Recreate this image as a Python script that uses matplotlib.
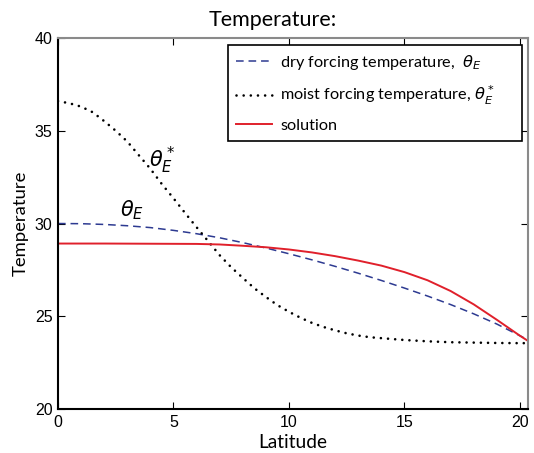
import matplotlib
matplotlib.use("Agg")
import matplotlib.pyplot as plt

# values
moist_lat = [0, 0.5, 1, 1.5, 2, 2.5, 3, 3.5, 4, 4.5, 5, 5.5, 6, 6.5, 7, 7.5, 8,
             8.5, 9, 9.5, 10, 10.5, 11, 11.5, 12, 12.5, 13, 13.5, 14, 15, 16,
             17, 18, 19, 20, 20.35]
moist_temp = [36.6, 36.48, 36.3, 36.0, 35.52, 35.0, 34.42, 33.68, 32.95, 32.12,
              31.36, 30.57, 29.8, 29.05, 28.29, 27.64, 27.07, 26.51, 26.04,
              25.6, 25.24, 24.92, 24.64, 24.42, 24.24, 24.08, 23.96, 23.87,
              23.82, 23.72, 23.65, 23.6, 23.58, 23.56, 23.55, 23.55]

dry_lat = [0, 1, 2, 3, 4, 5, 6, 7, 8, 9, 10, 11, 12, 13, 14, 15, 16, 17, 18,
           19, 20, 20.35]
dry_temp = [30.0, 29.99, 29.95, 29.88, 29.78, 29.63, 29.45, 29.23, 28.97,
            28.68, 28.37, 28.04, 27.69, 27.32, 26.93, 26.52, 26.09, 25.63,
            25.13, 24.58, 23.95, 23.72]

sol_lat = [0, 2, 4, 6, 7, 8, 9, 10, 11, 12, 13, 14, 15, 16, 17, 18, 19, 20,
           20.35]
sol_temp = [28.92, 28.92, 28.91, 28.9, 28.87, 28.8, 28.72, 28.6, 28.44, 28.24,
            28.0, 27.73, 27.38, 26.94, 26.36, 25.64, 24.81, 23.95, 23.67]

xticks = [0, 5, 10, 15, 20]
yticks = [20, 25, 30, 35, 40]

label_font = "Lato"
tick_font = "Liberation Sans"

fig = plt.figure(figsize=(5.34, 4.53), dpi=100)
ax = fig.add_axes([0.1086, 0.0971, 0.8802, 0.819])

ax.plot(dry_lat, dry_temp, color="#2d3a91", lw=1.1, dashes=(5, 3.2),
        label=r"dry forcing temperature,  $\theta_E$")
ax.plot(moist_lat, moist_temp, color="black", lw=1.9,
        linestyle=(0, (0.01, 2.7)), dash_capstyle="round",
        label=r"moist forcing temperature, $\theta_E^*$")
ax.plot(sol_lat, sol_temp, color="#e0202b", lw=1.4, label="solution")

ax.text(3.95, 33.4, r"$\theta_E^*$", fontsize=15, ha="left", va="center")
ax.text(2.7, 30.7, r"$\theta_E$", fontsize=15, ha="left", va="center")

ax.set_xlim(0, 20.35)
ax.set_ylim(20, 40)
ax.set_xticks(xticks)
ax.set_yticks(yticks)
ax.tick_params(direction="in", length=5, width=0.8, top=True, right=True,
               labelsize=11.5, pad=4)
for lab in ax.get_xticklabels() + ax.get_yticklabels():
    lab.set_fontfamily(tick_font)

for side in ["left", "bottom"]:
    ax.spines[side].set_color("black")
    ax.spines[side].set_linewidth(1.5)
for side in ["top", "right"]:
    ax.spines[side].set_color("#8a8a8a")
    ax.spines[side].set_linewidth(1.5)

ax.set_title("Temperature:", fontsize=15.5, family=label_font, pad=9, x=0.457)
ax.set_xlabel("Latitude", fontsize=13.8, family=label_font, labelpad=3)
ax.set_ylabel("Temperature", fontsize=13.3, family=label_font, labelpad=4)

# legend stretched to the same box as in the picture
leg = ax.legend(loc="upper left", bbox_to_anchor=(0.362, 0.5, 0.625, 0.481),
                mode="expand", borderaxespad=0, fancybox=False, framealpha=1,
                edgecolor="black", handlelength=2.2, handletextpad=0.5,
                labelspacing=0.7, borderpad=0.5,
                prop={"family": label_font, "size": 11.7})
leg.get_frame().set_linewidth(1.2)

fig.savefig("out.png", dpi=100)
